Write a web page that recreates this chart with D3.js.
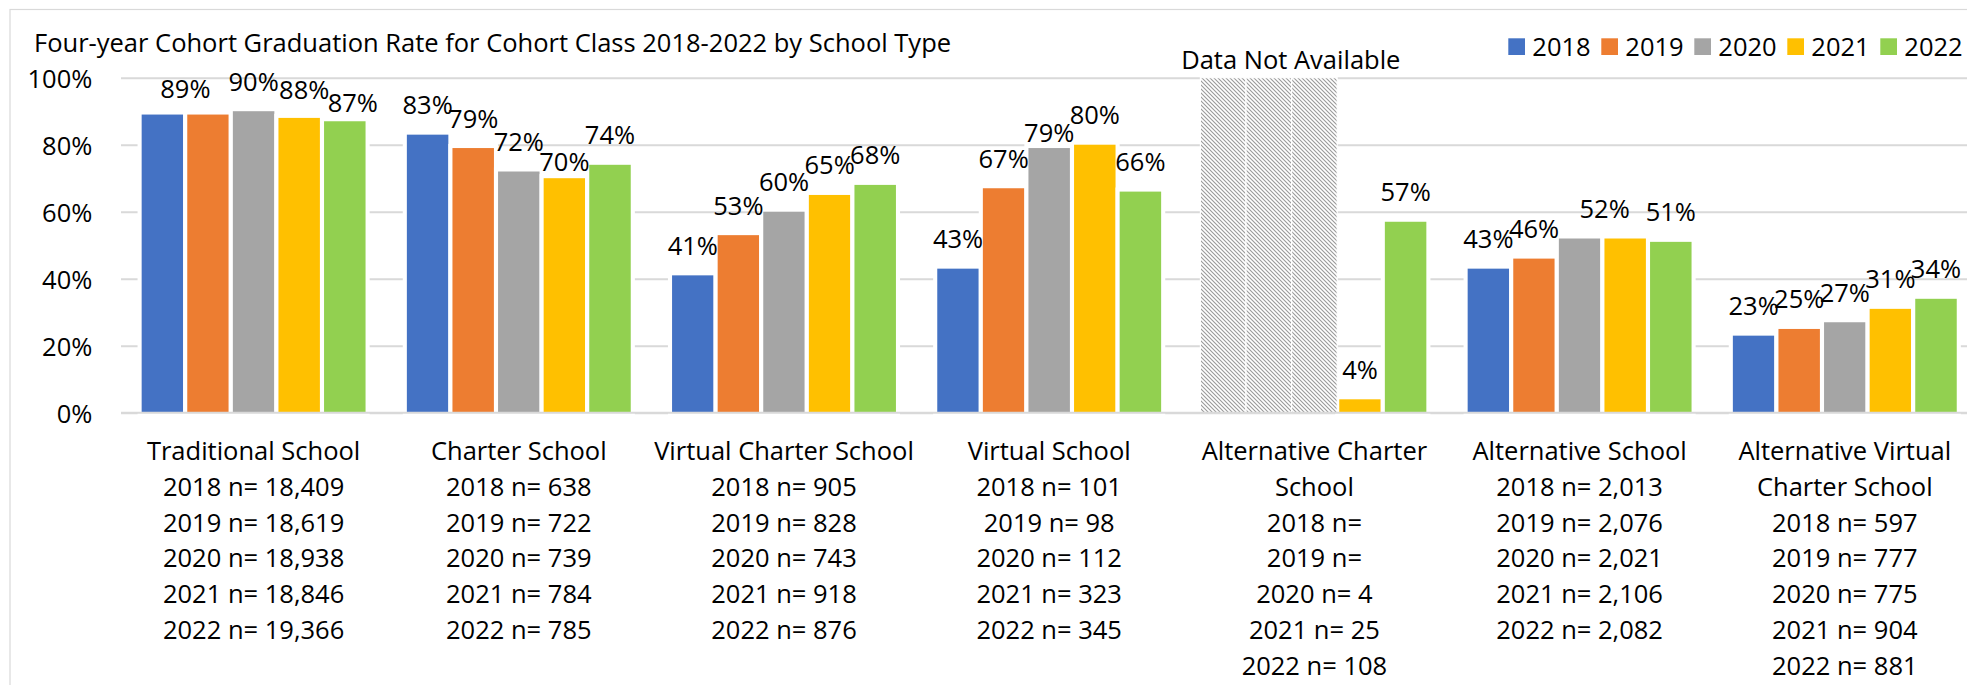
<!DOCTYPE html>
<html>
<head>
<meta charset="utf-8">
<script src="https://cdn.jsdelivr.net/npm/d3@7"></script>
<style>
  html, body { margin: 0; padding: 0; background: #fff; }
  svg { display: block; font-family: "Open Sans", "Noto Sans", sans-serif; }
</style>
</head>
<body>
<svg id="chart" width="1967" height="685"></svg>
<script>
// ---- data ----
const categories = [
  "Traditional School", "Charter School", "Virtual Charter School", "Virtual School",
  "Alternative Charter School", "Alternative School", "Alternative Virtual Charter School"
];
// category names as they wrap on the axis
const categoryLines = [
  ["Traditional School"], ["Charter School"], ["Virtual Charter School"], ["Virtual School"],
  ["Alternative Charter", "School"], ["Alternative School"], ["Alternative Virtual", "Charter School"]
];
const years = ["2018", "2019", "2020", "2021", "2022"];

// graduation rate (%) per category, one list per cohort year; null = not reported
const rate2018 = [89, 83, 41, 43, null, 43, 23];
const rate2019 = [89, 79, 53, 67, null, 46, 25];
const rate2020 = [90, 72, 60, 79, null, 52, 27];
const rate2021 = [88, 70, 65, 80, 4, 52, 31];
const rate2022 = [87, 74, 68, 66, 57, 51, 34];

// cohort sizes per category
const n2018 = ["18,409", "638", "905", "101", "", "2,013", "597"];
const n2019 = ["18,619", "722", "828", "98", "", "2,076", "777"];
const n2020 = ["18,938", "739", "743", "112", "4", "2,021", "775"];
const n2021 = ["18,846", "784", "918", "323", "25", "2,106", "904"];
const n2022 = ["19,366", "785", "876", "345", "108", "2,082", "881"];

// slots shown as "Data Not Available" (category index, year)
const unavailable = [[4, "2018"], [4, "2019"], [4, "2020"]];

const yTicks = [0, 20, 40, 60, 80, 100];
const seriesColors = ["#4472C4", "#ED7D31", "#A5A5A5", "#FFC000", "#92D050"];

const rates = { "2018": rate2018, "2019": rate2019, "2020": rate2020, "2021": rate2021, "2022": rate2022 };
const counts = { "2018": n2018, "2019": n2019, "2020": n2020, "2021": n2021, "2022": n2022 };

// hand-placed value labels: offsets in px, null = label removed
const labelNudge = {
  "0|2018": { dx: 23, dy: 3.5 },
  "0|2019": null,
  "0|2021": { dx: 5, dy: 1.5 },
  "0|2022": { dx: 8, dy: 11.5 },
  "1|2021": { dx: 0, dy: 13.5 },
  "3|2020": { dx: 0, dy: 14 },
  "5|2020": { dx: 25, dy: 0 },
  "5|2021": null
};

// ---- layout ----
const W = 1967, H = 685;
const plot = { left: 121, right: 1977.4, top: 77.7, bottom: 412.7 };
const fontSize = 25.5;

const svg = d3.select("#chart");
svg.append("rect").attr("width", W).attr("height", H).attr("fill", "#fff");

// chart frame
svg.append("rect")
  .attr("x", 10).attr("y", 9.5).attr("width", W + 50).attr("height", H + 50)
  .attr("fill", "none").attr("stroke", "#d9d9d9").attr("stroke-width", 1.2);

// hatch pattern for missing data
const defs = svg.append("defs");
const pat = defs.append("pattern")
  .attr("id", "hatch").attr("patternUnits", "userSpaceOnUse")
  .attr("width", 4).attr("height", 4);
pat.append("rect").attr("width", 4).attr("height", 4).attr("fill", "#fff");
pat.append("path")
  .attr("d", "M-1,-1 L5,5 M-1,3 L1,5 M3,-1 L5,1")
  .attr("stroke", "#9a9a9a").attr("stroke-width", 1.1);

const x0 = d3.scaleBand().domain(categories).range([plot.left, plot.right]);
const x1 = d3.scaleBand().domain(years).range([0, x0.bandwidth()])
  .paddingInner(0.09).paddingOuter(0.453);
const y = d3.scaleLinear().domain([0, 100]).range([plot.bottom, plot.top]);

const half = x1.step() * 0.09 / 2;

// gridlines + y axis
const yAxis = svg.append("g")
  .attr("transform", `translate(${plot.left},0)`)
  .call(d3.axisLeft(y).tickValues(yTicks).tickSize(-(plot.right - plot.left))
    .tickPadding(28.7).tickFormat(d => d + "%"));
yAxis.select(".domain").remove();
yAxis.selectAll(".tick line").attr("stroke", "#d9d9d9").attr("stroke-width", 2);
yAxis.selectAll(".tick text")
  .attr("font-size", fontSize).attr("fill", "#000")
  .attr("font-family", "Open Sans, Noto Sans, sans-serif")
  .attr("dy", "0.38em");

// bars
const barData = [];
categories.forEach((c, i) => {
  years.forEach(yr => {
    const v = rates[yr][i];
    if (v != null) barData.push({ c, i, yr, v });
  });
});

svg.append("g").selectAll("rect")
  .data(barData)
  .join("rect")
  .attr("x", d => x0(d.c) + x1(d.yr) - half)
  .attr("width", x1.bandwidth() + 2 * half)
  .attr("y", d => y(d.v) - half)
  .attr("height", d => y(0) - y(d.v) + 2 * half)
  .attr("fill", d => seriesColors[years.indexOf(d.yr)])
  .attr("stroke", "#fff")
  .attr("stroke-width", 2 * half);

// missing-data blocks
svg.append("g").selectAll("rect")
  .data(unavailable)
  .join("rect")
  .attr("x", d => x0(categories[d[0]]) + x1(d[1]) - half)
  .attr("width", x1.step())
  .attr("y", y(100))
  .attr("height", y(0) - y(100))
  .attr("fill", "url(#hatch)")
  .attr("stroke", "#fff")
  .attr("stroke-width", 1.2);

// baseline
svg.append("line")
  .attr("x1", plot.left).attr("x2", plot.right)
  .attr("y1", y(0)).attr("y2", y(0))
  .attr("stroke", "#d9d9d9").attr("stroke-width", 2);

// value labels
svg.append("g").selectAll("text")
  .data(barData.filter(d => labelNudge[d.i + "|" + d.yr] !== null))
  .join("text")
  .attr("x", d => {
    const n = labelNudge[d.i + "|" + d.yr];
    return x0(d.c) + x1(d.yr) + x1.bandwidth() / 2 + (n ? n.dx : 0);
  })
  .attr("y", d => {
    const n = labelNudge[d.i + "|" + d.yr];
    return y(d.v) - 20.5 + (n ? n.dy : 0);
  })
  .attr("text-anchor", "middle")
  .attr("font-size", fontSize)
  .attr("fill", "#000")
  .text(d => d.v + "%");

// "Data Not Available" note over the hatched block
svg.append("text")
  .attr("x", x0(categories[4]) + x1("2019") + x1.bandwidth() / 2 + 22)
  .attr("y", 69.3)
  .attr("text-anchor", "middle")
  .attr("font-size", fontSize)
  .attr("fill", "#000")
  .text("Data Not Available");

// category labels with cohort sizes
const lineGap = 35.8;
const catG = svg.append("g").selectAll("text")
  .data(categories)
  .join("text")
  .attr("text-anchor", "middle")
  .attr("font-size", fontSize)
  .attr("fill", "#000");
catG.each(function (c, i) {
  const lines = categoryLines[i].concat(years.map(yr => (yr + " n= " + counts[yr][i]).trim()));
  d3.select(this).selectAll("tspan")
    .data(lines)
    .join("tspan")
    .attr("x", x0(c) + x0.bandwidth() / 2)
    .attr("y", (d, k) => y(0) + 47.3 + k * lineGap)
    .text(d => d);
});

// title
svg.append("text")
  .attr("x", 34).attr("y", 51.7)
  .attr("font-size", fontSize)
  .attr("fill", "#000")
  .text("Four-year Cohort Graduation Rate for Cohort Class 2018-2022 by School Type");

// legend
const legend = svg.append("g").selectAll("g")
  .data(years)
  .join("g")
  .attr("transform", (d, k) => `translate(${1508.3 + k * 93},0)`);
legend.append("rect")
  .attr("x", 0).attr("y", 38.3).attr("width", 16.7).attr("height", 16.7)
  .attr("fill", (d, k) => seriesColors[k]);
legend.append("text")
  .attr("x", 24).attr("y", 55.5)
  .attr("font-size", fontSize)
  .attr("fill", "#000")
  .text(d => d);
</script>
</body>
</html>
